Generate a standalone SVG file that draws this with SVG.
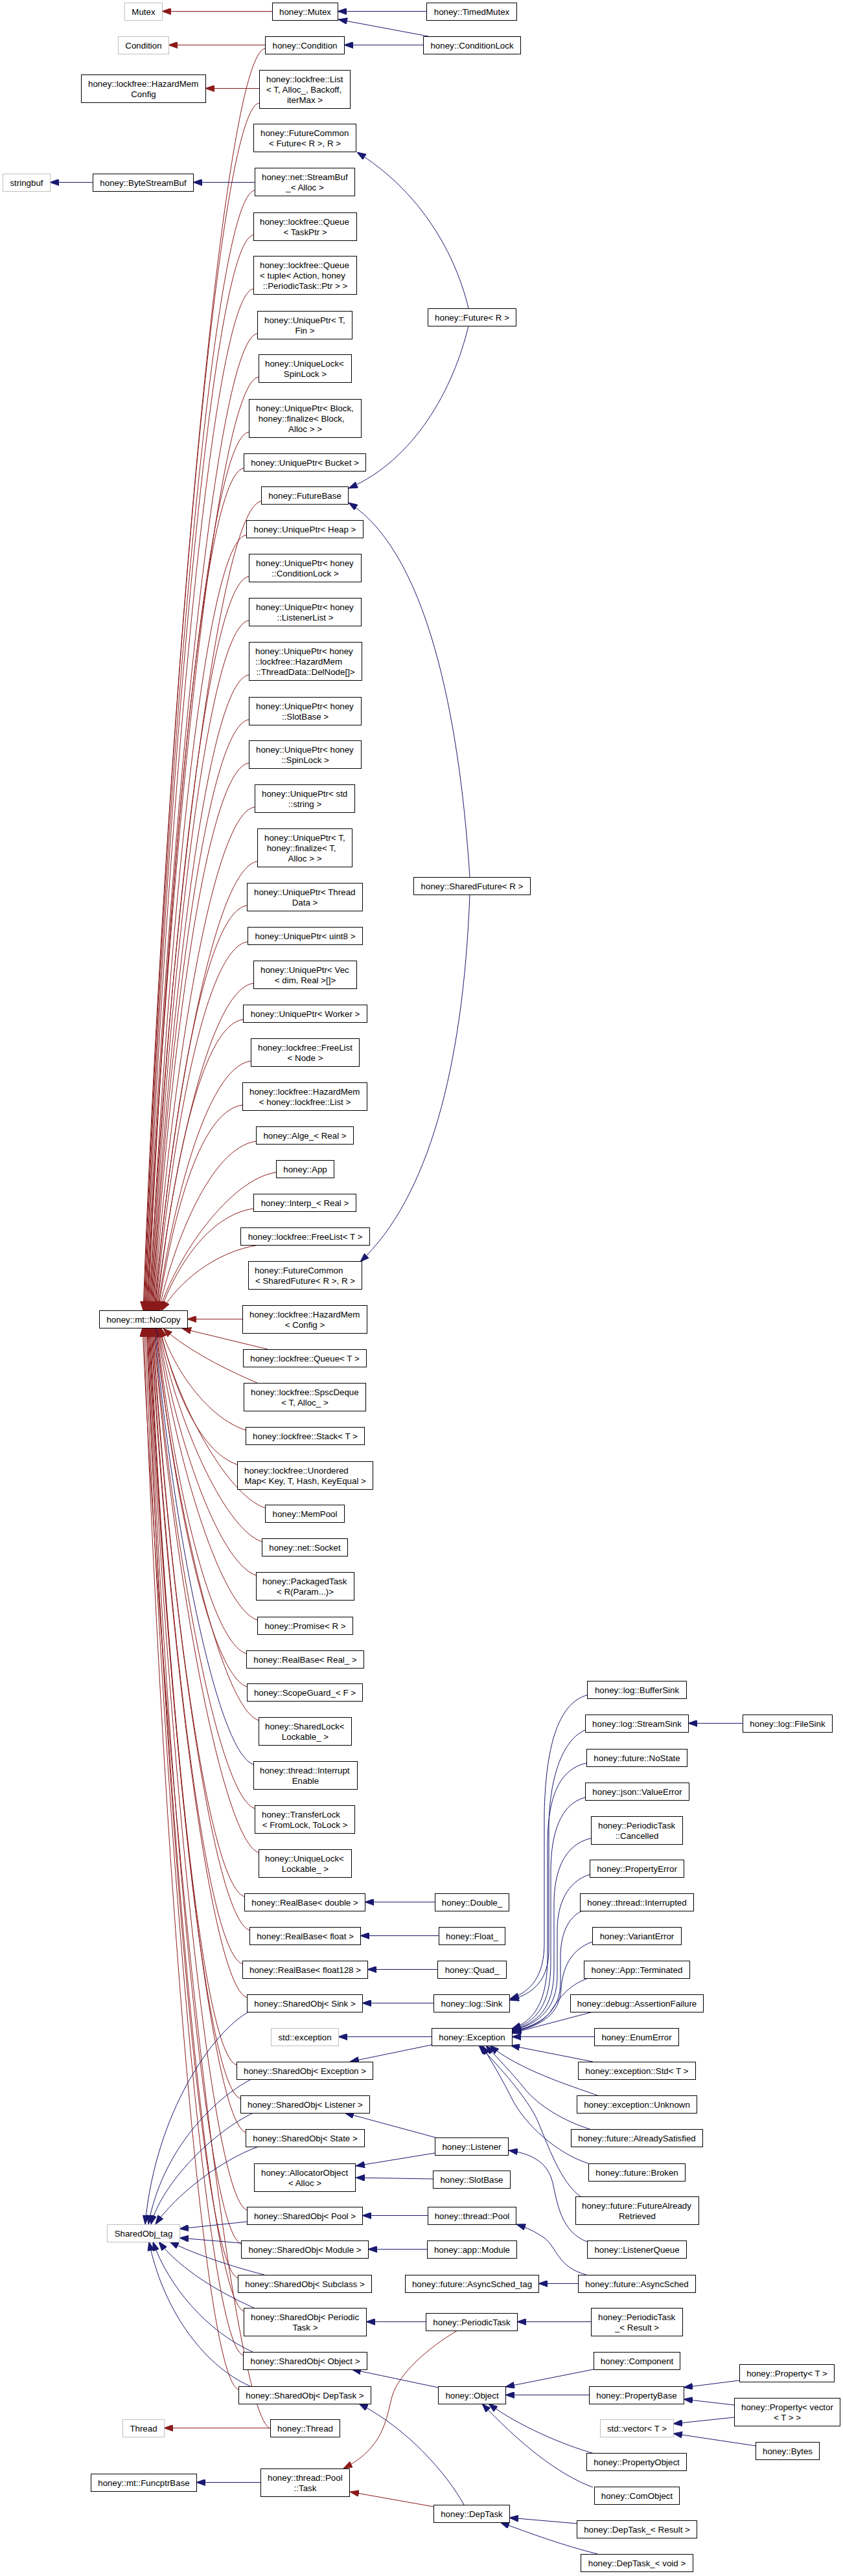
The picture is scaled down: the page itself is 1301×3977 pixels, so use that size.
<svg xmlns="http://www.w3.org/2000/svg" width="1301" height="3977" viewBox="0 0 1301 3977">
<style>
.n rect{fill:#fff;stroke:#000;stroke-width:1}
.g rect{fill:#fff;stroke:#bfbfbf;stroke-width:1}
text{font-family:"Liberation Sans",Arial,Helvetica,sans-serif;font-size:13.33px;fill:#000}
.c{text-anchor:middle}
#edges path{fill:none;stroke-width:1}
.r{stroke:#8b1a1a;marker-end:url(#ar)}
.b{stroke:#191970;marker-end:url(#ab)}
</style>
<defs>
<marker id="ar" viewBox="0 0 14 10" refX="14" refY="5" markerWidth="14" markerHeight="10" markerUnits="userSpaceOnUse" orient="auto"><path d="M0,0 L14,5 L0,10 z" fill="#8b1a1a" stroke="#8b1a1a"/></marker>
<marker id="ab" viewBox="0 0 14 10" refX="14" refY="5" markerWidth="14" markerHeight="10" markerUnits="userSpaceOnUse" orient="auto"><path d="M0,0 L14,5 L0,10 z" fill="#191970" stroke="#191970"/></marker>
</defs>
<rect width="1301" height="3977" fill="#fff"/>
<g id="edges">
<path class="r" d="M420,17.5 L250,17.5"/>
<path class="r" d="M409,69.5 L260,69.5"/>
<path class="r" d="M400,136.5 L317,136.5"/>
<path class="b" d="M658,17.5 L521,17.5"/>
<path class="b" d="M661,56 L522,30"/>
<path class="b" d="M653,69.5 L531,69.5"/>
<path class="b" d="M143,281.5 L77,281.5"/>
<path class="b" d="M393,281.5 L298,281.5"/>
<path class="b" d="M723,476 C700,380 640,290 551,235"/>
<path class="b" d="M723,503 C700,600 640,710 538,754"/>
<path class="b" d="M725,1354 C712,1150 670,860 538,776"/>
<path class="b" d="M725,1381 C715,1650 660,1850 556,1948"/>
<path class="r" d="M409,75 C339,85 249,1245 221,2023"/>
<path class="r" d="M400,159 C330,169 249,1277 222,2023"/>
<path class="r" d="M393,294 C323,304 248,1331 223,2023"/>
<path class="r" d="M391,363 C321,373 249,1359 224,2023"/>
<path class="r" d="M391,446 C321,456 250,1392 225,2023"/>
<path class="r" d="M397,515 C327,525 252,1420 226,2023"/>
<path class="r" d="M399,582 C329,592 253,1447 227,2023"/>
<path class="r" d="M384,667 C314,677 251,1481 228,2023"/>
<path class="r" d="M376,723 C306,733 251,1503 229,2023"/>
<path class="r" d="M403,774 C333,784 256,1523 230,2023"/>
<path class="r" d="M380,826 C310,836 253,1544 231,2023"/>
<path class="r" d="M384,890 C314,900 255,1570 232,2023"/>
<path class="r" d="M384,958 C314,968 256,1597 233,2023"/>
<path class="r" d="M384,1042 C314,1052 257,1631 234,2023"/>
<path class="r" d="M384,1111 C314,1121 257,1658 235,2023"/>
<path class="r" d="M384,1178 C314,1188 258,1685 236,2023"/>
<path class="r" d="M393,1246 C323,1256 260,1712 237,2023"/>
<path class="r" d="M397,1330 C327,1340 262,1746 238,2023"/>
<path class="r" d="M381,1398 C311,1408 260,1773 239,2023"/>
<path class="r" d="M382,1454 C312,1464 261,1795 240,2023"/>
<path class="r" d="M391,1518 C321,1528 264,1821 241,2023"/>
<path class="r" d="M375,1574 C305,1584 262,1843 242,2023"/>
<path class="r" d="M387,1638 C317,1648 265,1869 243,2023"/>
<path class="r" d="M374,1706 C304,1716 264,1896 244,2023"/>
<path class="r" d="M395,1762 C325,1772 268,1919 245,2023"/>
<path class="r" d="M426,1810 C356,1820 273,1938 246,2023"/>
<path class="r" d="M391,1866 C321,1876 270,1960 248,2023"/>
<path class="r" d="M400,1922 C330,1932 273,1983 250,2023"/>
<path class="r" d="M374,2036.5 L289,2036.5"/>
<path class="r" d="M413,2083 L281,2051"/>
<path class="r" d="M397,2135 C350,2115 290,2085 252,2051"/>
<path class="r" d="M379,2208 C319,2188 268,2113 248,2050"/>
<path class="r" d="M366,2261 C306,2241 265,2134 247,2050"/>
<path class="r" d="M409,2328 C349,2308 271,2161 246,2050"/>
<path class="r" d="M404,2380 C344,2360 269,2182 245,2050"/>
<path class="r" d="M395,2432 C335,2412 267,2203 244,2050"/>
<path class="r" d="M397,2501 C337,2481 266,2230 243,2050"/>
<path class="r" d="M380,2553 C320,2533 263,2251 242,2050"/>
<path class="r" d="M381,2604 C321,2584 262,2272 241,2050"/>
<path class="r" d="M399,2656 C339,2636 264,2292 240,2050"/>
<path class="b" d="M391,2724 C331,2704 262,2320 239,2050"/>
<path class="r" d="M393,2792 C333,2772 261,2347 238,2050"/>
<path class="r" d="M399,2860 C339,2840 261,2374 237,2050"/>
<path class="r" d="M377,2928 C317,2908 257,2401 236,2050"/>
<path class="r" d="M385,2980 C325,2960 258,2422 235,2050"/>
<path class="r" d="M374,3032 C314,3012 255,2443 234,2050"/>
<path class="r" d="M381,3084 C321,3064 255,2464 233,2050"/>
<path class="r" d="M365,3188 C305,3168 252,2505 232,2050"/>
<path class="r" d="M371,3240 C311,3220 252,2526 231,2050"/>
<path class="r" d="M379,3292 C319,3272 252,2547 230,2050"/>
<path class="r" d="M381,3412 C321,3392 252,2595 229,2050"/>
<path class="r" d="M372,3464 C312,3444 250,2616 228,2050"/>
<path class="r" d="M367,3517 C307,3497 248,2637 227,2050"/>
<path class="r" d="M376,3568 C316,3548 249,2657 226,2050"/>
<path class="r" d="M375,3636 C315,3616 247,2684 224,2050"/>
<path class="r" d="M368,3689 C308,3669 244,2706 222,2050"/>
<path class="r" d="M417,3749 C357,3729 250,2730 220,2050"/>
<path class="b" d="M671,2936.5 L563,2936.5"/>
<path class="b" d="M677,2988.5 L556,2988.5"/>
<path class="b" d="M675,3040.5 L567,3040.5"/>
<path class="b" d="M669,3092.5 L559,3092.5"/>
<path class="b" d="M666,3144.5 L522,3144.5"/>
<path class="b" d="M666,3157 L540,3183"/>
<path class="b" d="M1146,2660.5 L1062,2660.5"/>
<path class="b" d="M906,2617 C860,2630 842,2700 840,2800 L840,3000 C840,3050 820,3075 787,3086"/>
<path class="b" d="M903,2671 C870,2685 848,2740 847,2820 L847,3010 C847,3055 825,3078 787,3088"/>
<path class="b" d="M905,2722 C860,2732 845,2780 845,2850 L845,3020 C845,3090 825,3120 790,3132"/>
<path class="b" d="M903,2775 C865,2785 850,2830 850,2890 L850,3030 C850,3095 828,3122 790,3133"/>
<path class="b" d="M912,2838 C870,2848 855,2890 855,2940 L855,3040 C855,3100 830,3124 790,3134"/>
<path class="b" d="M910,2894 C875,2905 860,2940 860,2980 L860,3050 C860,3100 832,3125 790,3135"/>
<path class="b" d="M899,2950 C875,2960 865,2990 865,3020 L865,3060 C865,3105 835,3127 790,3136"/>
<path class="b" d="M914,2998 C880,3010 868,3040 866,3070 C864,3108 838,3128 790,3137"/>
<path class="b" d="M908,3054 C875,3065 860,3090 850,3105 C840,3120 820,3130 790,3138"/>
<path class="b" d="M915,3106 L790,3139"/>
<path class="b" d="M917,3144.5 L790,3144.5"/>
<path class="b" d="M915,3183 L788,3158"/>
<path class="b" d="M922,3235 C880,3220 800,3195 756,3158"/>
<path class="b" d="M913,3288 C870,3275 830,3250 810,3225 C790,3200 770,3180 750,3158"/>
<path class="b" d="M908,3340 C860,3325 810,3280 790,3240 C775,3210 760,3185 744,3158"/>
<path class="b" d="M897,3392 C865,3370 845,3310 830,3275 C815,3240 770,3190 739,3158"/>
<path class="b" d="M384,3106 C330,3135 240,3260 224,3434"/>
<path class="b" d="M388,3210 C330,3240 250,3320 229,3434"/>
<path class="b" d="M393,3261 C330,3290 250,3370 233,3434"/>
<path class="b" d="M399,3314 C340,3335 270,3390 240,3434"/>
<path class="b" d="M381,3430 L277,3441"/>
<path class="b" d="M372,3463 L277,3455"/>
<path class="b" d="M408,3512 C360,3500 300,3480 262,3461"/>
<path class="b" d="M392,3563 C340,3540 280,3505 245,3461"/>
<path class="b" d="M390,3631 C320,3600 260,3530 236,3461"/>
<path class="b" d="M386,3684 C310,3650 250,3560 230,3461"/>
<path class="b" d="M672,3300 L532,3262"/>
<path class="b" d="M671,3324 L549,3344"/>
<path class="b" d="M668,3364 L549,3362"/>
<path class="b" d="M660,3420.5 L559,3420.5"/>
<path class="b" d="M659,3472.5 L568,3472.5"/>
<path class="b" d="M892,3525.5 L831,3525.5"/>
<path class="b" d="M905,3512 C860,3500 860,3470 840,3455 C825,3445 815,3440 797,3434"/>
<path class="b" d="M906,3461 C865,3445 860,3400 853,3370 C845,3335 815,3324 785,3320"/>
<path class="b" d="M657,3584.5 L565,3584.5"/>
<path class="b" d="M912,3584.5 L798,3584.5"/>
<path class="r" d="M706,3598 C660,3625 615,3665 605,3700 C595,3740 590,3780 530,3811"/>
<path class="r" d="M669,3870 L540,3847"/>
<path class="b" d="M402,3832.5 L303,3832.5"/>
<path class="r" d="M417,3748.5 L253,3748.5"/>
<path class="b" d="M676,3686 L543,3658"/>
<path class="b" d="M716,3867 C690,3820 630,3750 554,3711"/>
<path class="b" d="M916,3658 L780,3685"/>
<path class="b" d="M909,3697.5 L780,3697.5"/>
<path class="b" d="M917,3788 C870,3775 800,3745 754,3711"/>
<path class="b" d="M915,3840 C860,3820 800,3770 744,3711"/>
<path class="b" d="M1141,3675 L1055,3686"/>
<path class="b" d="M1133,3713 L1055,3704"/>
<path class="b" d="M1133,3732 L1039,3742"/>
<path class="b" d="M1166,3776 L1039,3757"/>
<path class="b" d="M890,3896 L786,3887"/>
<path class="b" d="M922,3943 C870,3930 820,3912 772,3894"/>
</g>
<g id="n_mutex_ext" class="g"><rect x="192.5" y="4.5" width="58" height="27"/><text class="c" x="221.5" y="23">Mutex</text></g>
<g id="n_honey_mutex" class="n"><rect x="420.5" y="4.5" width="101" height="27"/><text class="c" x="471" y="23">honey::Mutex</text></g>
<g id="n_timedmutex" class="n"><rect x="658.5" y="4.5" width="139" height="27"/><text class="c" x="728" y="23">honey::TimedMutex</text></g>
<g id="n_condition_ext" class="g"><rect x="182.5" y="56.5" width="78" height="27"/><text class="c" x="221.5" y="75">Condition</text></g>
<g id="n_honey_condition" class="n"><rect x="409.5" y="56.5" width="122" height="27"/><text class="c" x="470.5" y="75">honey::Condition</text></g>
<g id="n_conditionlock" class="n"><rect x="653.5" y="56.5" width="150" height="27"/><text class="c" x="728.5" y="75">honey::ConditionLock</text></g>
<g id="n_hazardmem_cfgbase" class="n"><rect x="125.5" y="115.5" width="192" height="43"/><text x="136" y="134">honey::lockfree::HazardMem</text><text class="c" x="221.5" y="150">Config</text></g>
<g id="n_list" class="n"><rect x="400.5" y="108.5" width="140" height="59"/><text x="411" y="127">honey::lockfree::List</text><text x="411" y="143">&lt; T, Alloc_, Backoff,</text><text class="c" x="470.5" y="159">iterMax &gt;</text></g>
<g id="n_fc_future" class="n"><rect x="391.5" y="191.5" width="158" height="43"/><text x="402" y="210">honey::FutureCommon</text><text class="c" x="470.5" y="226">&lt; Future&lt; R &gt;, R &gt;</text></g>
<g id="n_stringbuf" class="g"><rect x="4.5" y="268.5" width="73" height="27"/><text class="c" x="41" y="287">stringbuf</text></g>
<g id="n_bytestreambuf" class="n"><rect x="143.5" y="268.5" width="155" height="27"/><text class="c" x="221" y="287">honey::ByteStreamBuf</text></g>
<g id="n_streambuf" class="n"><rect x="393.5" y="259.5" width="154" height="43"/><text x="404" y="278">honey::net::StreamBuf</text><text class="c" x="470.5" y="294">_&lt; Alloc &gt;</text></g>
<g id="n_queue_taskptr" class="n"><rect x="391.5" y="328.5" width="159" height="43"/><text x="401" y="347">honey::lockfree::Queue</text><text class="c" x="471" y="363">&lt; TaskPtr &gt;</text></g>
<g id="n_queue_tuple" class="n"><rect x="391.5" y="395.5" width="159" height="59"/><text x="401" y="414">honey::lockfree::Queue</text><text x="401" y="430">&lt; tuple&lt; Action, honey</text><text class="c" x="471" y="446">::PeriodicTask::Ptr &gt; &gt;</text></g>
<g id="n_up_tfin" class="n"><rect x="397.5" y="480.5" width="146" height="43"/><text x="408" y="499">honey::UniquePtr&lt; T,</text><text class="c" x="470.5" y="515">Fin &gt;</text></g>
<g id="n_ul_spinlock" class="n"><rect x="399.5" y="547.5" width="143" height="43"/><text x="409" y="566">honey::UniqueLock&lt;</text><text class="c" x="471" y="582">SpinLock &gt;</text></g>
<g id="n_up_block" class="n"><rect x="384.5" y="616.5" width="173" height="59"/><text x="395" y="635">honey::UniquePtr&lt; Block,</text><text x="398.7" y="651">honey::finalize&lt; Block,</text><text class="c" x="471" y="667">Alloc &gt; &gt;</text></g>
<g id="n_up_bucket" class="n"><rect x="376.5" y="700.5" width="188" height="27"/><text class="c" x="470.5" y="719">honey::UniquePtr&lt; Bucket &gt;</text></g>
<g id="n_futurebase" class="n"><rect x="403.5" y="751.5" width="134" height="27"/><text class="c" x="470.5" y="770">honey::FutureBase</text></g>
<g id="n_up_heap" class="n"><rect x="380.5" y="803.5" width="180" height="27"/><text class="c" x="470.5" y="822">honey::UniquePtr&lt; Heap &gt;</text></g>
<g id="n_up_condlock" class="n"><rect x="384.5" y="855.5" width="173" height="43"/><text x="395" y="874">honey::UniquePtr&lt; honey</text><text class="c" x="471" y="890">::ConditionLock &gt;</text></g>
<g id="n_up_listenerlist" class="n"><rect x="384.5" y="923.5" width="173" height="43"/><text x="395" y="942">honey::UniquePtr&lt; honey</text><text class="c" x="471" y="958">::ListenerList &gt;</text></g>
<g id="n_up_delnode" class="n"><rect x="384.5" y="991.5" width="174" height="59"/><text x="394" y="1010">honey::UniquePtr&lt; honey</text><text x="394" y="1026">::lockfree::HazardMem</text><text class="c" x="471.5" y="1042">::ThreadData::DelNode[]&gt;</text></g>
<g id="n_up_slotbase" class="n"><rect x="384.5" y="1076.5" width="173" height="43"/><text x="395" y="1095">honey::UniquePtr&lt; honey</text><text class="c" x="471" y="1111">::SlotBase &gt;</text></g>
<g id="n_up_spinlock" class="n"><rect x="384.5" y="1143.5" width="173" height="43"/><text x="395" y="1162">honey::UniquePtr&lt; honey</text><text class="c" x="471" y="1178">::SpinLock &gt;</text></g>
<g id="n_up_string" class="n"><rect x="393.5" y="1211.5" width="154" height="43"/><text x="404" y="1230">honey::UniquePtr&lt; std</text><text class="c" x="470.5" y="1246">::string &gt;</text></g>
<g id="n_up_tfinalize" class="n"><rect x="397.5" y="1279.5" width="146" height="59"/><text x="408" y="1298">honey::UniquePtr&lt; T,</text><text x="411.7" y="1314">honey::finalize&lt; T,</text><text class="c" x="470.5" y="1330">Alloc &gt; &gt;</text></g>
<g id="n_up_threaddata" class="n"><rect x="381.5" y="1363.5" width="178" height="43"/><text x="392" y="1382">honey::UniquePtr&lt; Thread</text><text class="c" x="470.5" y="1398">Data &gt;</text></g>
<g id="n_up_uint8" class="n"><rect x="382.5" y="1431.5" width="177" height="27"/><text class="c" x="471" y="1450">honey::UniquePtr&lt; uint8 &gt;</text></g>
<g id="n_up_vec" class="n"><rect x="391.5" y="1483.5" width="159" height="43"/><text x="402" y="1502">honey::UniquePtr&lt; Vec</text><text class="c" x="471" y="1518">&lt; dim, Real &gt;[]&gt;</text></g>
<g id="n_up_worker" class="n"><rect x="375.5" y="1551.5" width="191" height="27"/><text class="c" x="471" y="1570">honey::UniquePtr&lt; Worker &gt;</text></g>
<g id="n_freelist_node" class="n"><rect x="387.5" y="1603.5" width="167" height="43"/><text x="398" y="1622">honey::lockfree::FreeList</text><text class="c" x="471" y="1638">&lt; Node &gt;</text></g>
<g id="n_hazardmem_list" class="n"><rect x="374.5" y="1671.5" width="192" height="43"/><text x="385" y="1690">honey::lockfree::HazardMem</text><text class="c" x="470.5" y="1706">&lt; honey::lockfree::List &gt;</text></g>
<g id="n_alge" class="n"><rect x="395.5" y="1739.5" width="150" height="27"/><text class="c" x="470.5" y="1758">honey::Alge_&lt; Real &gt;</text></g>
<g id="n_app" class="n"><rect x="426.5" y="1791.5" width="89" height="27"/><text class="c" x="471" y="1810">honey::App</text></g>
<g id="n_interp" class="n"><rect x="391.5" y="1843.5" width="158" height="27"/><text class="c" x="470.5" y="1862">honey::Interp_&lt; Real &gt;</text></g>
<g id="n_freelist_t" class="n"><rect x="371.5" y="1895.5" width="199" height="27"/><text class="c" x="471" y="1914">honey::lockfree::FreeList&lt; T &gt;</text></g>
<g id="n_fc_shared" class="n"><rect x="383.5" y="1947.5" width="175" height="43"/><text x="393" y="1966">honey::FutureCommon</text><text class="c" x="471" y="1982">&lt; SharedFuture&lt; R &gt;, R &gt;</text></g>
<g id="n_nocopy" class="n"><rect x="153.5" y="2023.5" width="136" height="27"/><text class="c" x="221.5" y="2042">honey::mt::NoCopy</text></g>
<g id="n_hazardmem_config" class="n"><rect x="374.5" y="2015.5" width="192" height="43"/><text x="385" y="2034">honey::lockfree::HazardMem</text><text class="c" x="470.5" y="2050">&lt; Config &gt;</text></g>
<g id="n_queue_t" class="n"><rect x="375.5" y="2083.5" width="190" height="27"/><text class="c" x="470.5" y="2102">honey::lockfree::Queue&lt; T &gt;</text></g>
<g id="n_spscdeque" class="n"><rect x="376.5" y="2135.5" width="188" height="43"/><text x="387" y="2154">honey::lockfree::SpscDeque</text><text class="c" x="470.5" y="2170">&lt; T, Alloc_ &gt;</text></g>
<g id="n_stack" class="n"><rect x="379.5" y="2203.5" width="183" height="27"/><text class="c" x="471" y="2222">honey::lockfree::Stack&lt; T &gt;</text></g>
<g id="n_unorderedmap" class="n"><rect x="366.5" y="2256.5" width="209" height="43"/><text x="377" y="2275">honey::lockfree::Unordered</text><text class="c" x="471" y="2291">Map&lt; Key, T, Hash, KeyEqual &gt;</text></g>
<g id="n_mempool" class="n"><rect x="409.5" y="2323.5" width="122" height="27"/><text class="c" x="470.5" y="2342">honey::MemPool</text></g>
<g id="n_socket" class="n"><rect x="404.5" y="2375.5" width="132" height="27"/><text class="c" x="470.5" y="2394">honey::net::Socket</text></g>
<g id="n_packagedtask" class="n"><rect x="395.5" y="2427.5" width="151" height="43"/><text x="405" y="2446">honey::PackagedTask</text><text class="c" x="471" y="2462">&lt; R(Param...)&gt;</text></g>
<g id="n_promise" class="n"><rect x="397.5" y="2496.5" width="147" height="27"/><text class="c" x="471" y="2515">honey::Promise&lt; R &gt;</text></g>
<g id="n_realbase_real" class="n"><rect x="380.5" y="2548.5" width="181" height="27"/><text class="c" x="471" y="2567">honey::RealBase&lt; Real_ &gt;</text></g>
<g id="n_scopeguard" class="n"><rect x="381.5" y="2599.5" width="178" height="27"/><text class="c" x="470.5" y="2618">honey::ScopeGuard_&lt; F &gt;</text></g>
<g id="n_sharedlock" class="n"><rect x="399.5" y="2651.5" width="143" height="43"/><text x="409" y="2670">honey::SharedLock&lt;</text><text class="c" x="471" y="2686">Lockable_ &gt;</text></g>
<g id="n_interruptenable" class="n"><rect x="391.5" y="2719.5" width="160" height="43"/><text x="401" y="2738">honey::thread::Interrupt</text><text class="c" x="471.5" y="2754">Enable</text></g>
<g id="n_transferlock" class="n"><rect x="393.5" y="2787.5" width="154" height="43"/><text x="404" y="2806">honey::TransferLock</text><text class="c" x="470.5" y="2822">&lt; FromLock, ToLock &gt;</text></g>
<g id="n_ul_lockable" class="n"><rect x="399.5" y="2855.5" width="143" height="43"/><text x="409" y="2874">honey::UniqueLock&lt;</text><text class="c" x="471" y="2890">Lockable_ &gt;</text></g>
<g id="n_rb_double" class="n"><rect x="377.5" y="2923.5" width="186" height="27"/><text class="c" x="470.5" y="2942">honey::RealBase&lt; double &gt;</text></g>
<g id="n_rb_float" class="n"><rect x="385.5" y="2975.5" width="171" height="27"/><text class="c" x="471" y="2994">honey::RealBase&lt; float &gt;</text></g>
<g id="n_rb_float128" class="n"><rect x="374.5" y="3027.5" width="193" height="27"/><text class="c" x="471" y="3046">honey::RealBase&lt; float128 &gt;</text></g>
<g id="n_so_sink" class="n"><rect x="381.5" y="3079.5" width="178" height="27"/><text class="c" x="470.5" y="3098">honey::SharedObj&lt; Sink &gt;</text></g>
<g id="n_std_exception" class="g"><rect x="418.5" y="3131.5" width="104" height="27"/><text class="c" x="470.5" y="3150">std::exception</text></g>
<g id="n_so_exception" class="n"><rect x="365.5" y="3183.5" width="210" height="27"/><text class="c" x="470.5" y="3202">honey::SharedObj&lt; Exception &gt;</text></g>
<g id="n_so_listener" class="n"><rect x="371.5" y="3235.5" width="199" height="27"/><text class="c" x="471" y="3254">honey::SharedObj&lt; Listener &gt;</text></g>
<g id="n_so_state" class="n"><rect x="379.5" y="3287.5" width="183" height="27"/><text class="c" x="471" y="3306">honey::SharedObj&lt; State &gt;</text></g>
<g id="n_allocatorobject" class="n"><rect x="392.5" y="3340.5" width="156" height="43"/><text x="403" y="3359">honey::AllocatorObject</text><text class="c" x="470.5" y="3375">&lt; Alloc &gt;</text></g>
<g id="n_so_pool" class="n"><rect x="381.5" y="3407.5" width="178" height="27"/><text class="c" x="470.5" y="3426">honey::SharedObj&lt; Pool &gt;</text></g>
<g id="n_sharedobj_tag" class="g"><rect x="165.5" y="3434.5" width="112" height="27"/><text class="c" x="221.5" y="3453">SharedObj_tag</text></g>
<g id="n_so_module" class="n"><rect x="372.5" y="3459.5" width="196" height="27"/><text class="c" x="470.5" y="3478">honey::SharedObj&lt; Module &gt;</text></g>
<g id="n_so_subclass" class="n"><rect x="367.5" y="3512.5" width="206" height="27"/><text class="c" x="470.5" y="3531">honey::SharedObj&lt; Subclass &gt;</text></g>
<g id="n_so_periodictask" class="n"><rect x="376.5" y="3563.5" width="189" height="43"/><text x="387" y="3582">honey::SharedObj&lt; Periodic</text><text class="c" x="471" y="3598">Task &gt;</text></g>
<g id="n_so_object" class="n"><rect x="375.5" y="3631.5" width="191" height="27"/><text class="c" x="471" y="3650">honey::SharedObj&lt; Object &gt;</text></g>
<g id="n_so_deptask" class="n"><rect x="368.5" y="3684.5" width="204" height="27"/><text class="c" x="470.5" y="3703">honey::SharedObj&lt; DepTask &gt;</text></g>
<g id="n_thread_ext" class="g"><rect x="189.5" y="3735.5" width="64" height="27"/><text class="c" x="221.5" y="3754">Thread</text></g>
<g id="n_honey_thread" class="n"><rect x="417.5" y="3735.5" width="107" height="27"/><text class="c" x="471" y="3754">honey::Thread</text></g>
<g id="n_funcptrbase" class="n"><rect x="140.5" y="3819.5" width="163" height="27"/><text class="c" x="222" y="3838">honey::mt::FuncptrBase</text></g>
<g id="n_pool_task" class="n"><rect x="402.5" y="3811.5" width="137" height="43"/><text x="413" y="3830">honey::thread::Pool</text><text class="c" x="471" y="3846">::Task</text></g>
<g id="n_future" class="n"><rect x="660.5" y="476.5" width="136" height="27"/><text class="c" x="728.5" y="495">honey::Future&lt; R &gt;</text></g>
<g id="n_sharedfuture" class="n"><rect x="638.5" y="1354.5" width="180" height="27"/><text class="c" x="728.5" y="1373">honey::SharedFuture&lt; R &gt;</text></g>
<g id="n_double" class="n"><rect x="671.5" y="2923.5" width="114" height="27"/><text class="c" x="728.5" y="2942">honey::Double_</text></g>
<g id="n_float" class="n"><rect x="677.5" y="2975.5" width="102" height="27"/><text class="c" x="728.5" y="2994">honey::Float_</text></g>
<g id="n_quad" class="n"><rect x="675.5" y="3027.5" width="106" height="27"/><text class="c" x="728.5" y="3046">honey::Quad_</text></g>
<g id="n_logsink" class="n"><rect x="669.5" y="3079.5" width="117" height="27"/><text class="c" x="728" y="3098">honey::log::Sink</text></g>
<g id="n_exception" class="n"><rect x="666.5" y="3131.5" width="124" height="27"/><text class="c" x="728.5" y="3150">honey::Exception</text></g>
<g id="n_listener" class="n"><rect x="671.5" y="3300.5" width="113" height="27"/><text class="c" x="728" y="3319">honey::Listener</text></g>
<g id="n_slotbase" class="n"><rect x="668.5" y="3351.5" width="119" height="27"/><text class="c" x="728" y="3370">honey::SlotBase</text></g>
<g id="n_threadpool" class="n"><rect x="660.5" y="3407.5" width="136" height="27"/><text class="c" x="728.5" y="3426">honey::thread::Pool</text></g>
<g id="n_appmodule" class="n"><rect x="659.5" y="3459.5" width="138" height="27"/><text class="c" x="728.5" y="3478">honey::app::Module</text></g>
<g id="n_asyncsched_tag" class="n"><rect x="625.5" y="3512.5" width="206" height="27"/><text class="c" x="728.5" y="3531">honey::future::AsyncSched_tag</text></g>
<g id="n_periodictask" class="n"><rect x="657.5" y="3571.5" width="141" height="27"/><text class="c" x="728" y="3590">honey::PeriodicTask</text></g>
<g id="n_object" class="n"><rect x="676.5" y="3684.5" width="104" height="27"/><text class="c" x="728.5" y="3703">honey::Object</text></g>
<g id="n_deptask" class="n"><rect x="669.5" y="3867.5" width="117" height="27"/><text class="c" x="728" y="3886">honey::DepTask</text></g>
<g id="n_buffersink" class="n"><rect x="906.5" y="2595.5" width="153" height="27"/><text class="c" x="983" y="2614">honey::log::BufferSink</text></g>
<g id="n_streamsink" class="n"><rect x="903.5" y="2647.5" width="159" height="27"/><text class="c" x="983" y="2666">honey::log::StreamSink</text></g>
<g id="n_filesink" class="n"><rect x="1146.5" y="2647.5" width="138" height="27"/><text class="c" x="1215.5" y="2666">honey::log::FileSink</text></g>
<g id="n_nostate" class="n"><rect x="905.5" y="2700.5" width="155" height="27"/><text class="c" x="983" y="2719">honey::future::NoState</text></g>
<g id="n_valueerror" class="n"><rect x="903.5" y="2752.5" width="160" height="27"/><text class="c" x="983.5" y="2771">honey::json::ValueError</text></g>
<g id="n_cancelled" class="n"><rect x="912.5" y="2804.5" width="141" height="43"/><text x="923" y="2823">honey::PeriodicTask</text><text class="c" x="983" y="2839">::Cancelled</text></g>
<g id="n_propertyerror" class="n"><rect x="910.5" y="2871.5" width="145" height="27"/><text class="c" x="983" y="2890">honey::PropertyError</text></g>
<g id="n_interrupted" class="n"><rect x="895.5" y="2923.5" width="175" height="27"/><text class="c" x="983" y="2942">honey::thread::Interrupted</text></g>
<g id="n_varianterror" class="n"><rect x="914.5" y="2975.5" width="137" height="27"/><text class="c" x="983" y="2994">honey::VariantError</text></g>
<g id="n_appterminated" class="n"><rect x="901.5" y="3027.5" width="163" height="27"/><text class="c" x="983" y="3046">honey::App::Terminated</text></g>
<g id="n_assertionfailure" class="n"><rect x="880.5" y="3079.5" width="205" height="27"/><text class="c" x="983" y="3098">honey::debug::AssertionFailure</text></g>
<g id="n_enumerror" class="n"><rect x="917.5" y="3131.5" width="130" height="27"/><text class="c" x="982.5" y="3150">honey::EnumError</text></g>
<g id="n_exc_std" class="n"><rect x="892.5" y="3183.5" width="181" height="27"/><text class="c" x="983" y="3202">honey::exception::Std&lt; T &gt;</text></g>
<g id="n_exc_unknown" class="n"><rect x="890.5" y="3235.5" width="185" height="27"/><text class="c" x="983" y="3254">honey::exception::Unknown</text></g>
<g id="n_alreadysatisfied" class="n"><rect x="881.5" y="3287.5" width="203" height="27"/><text class="c" x="983" y="3306">honey::future::AlreadySatisfied</text></g>
<g id="n_broken" class="n"><rect x="908.5" y="3340.5" width="149" height="27"/><text class="c" x="983" y="3359">honey::future::Broken</text></g>
<g id="n_futurealreadyretrieved" class="n"><rect x="888.5" y="3391.5" width="190" height="43"/><text x="898" y="3410">honey::future::FutureAlready</text><text class="c" x="983.5" y="3426">Retrieved</text></g>
<g id="n_listenerqueue" class="n"><rect x="906.5" y="3459.5" width="153" height="27"/><text class="c" x="983" y="3478">honey::ListenerQueue</text></g>
<g id="n_asyncsched" class="n"><rect x="892.5" y="3512.5" width="181" height="27"/><text class="c" x="983" y="3531">honey::future::AsyncSched</text></g>
<g id="n_periodictask_result" class="n"><rect x="912.5" y="3563.5" width="141" height="43"/><text x="923" y="3582">honey::PeriodicTask</text><text class="c" x="983" y="3598">_&lt; Result &gt;</text></g>
<g id="n_component" class="n"><rect x="916.5" y="3631.5" width="133" height="27"/><text class="c" x="983" y="3650">honey::Component</text></g>
<g id="n_propertybase" class="n"><rect x="909.5" y="3684.5" width="146" height="27"/><text class="c" x="982.5" y="3703">honey::PropertyBase</text></g>
<g id="n_stdvector" class="g"><rect x="926.5" y="3735.5" width="113" height="27"/><text class="c" x="983" y="3754">std::vector&lt; T &gt;</text></g>
<g id="n_propertyobject" class="n"><rect x="905.5" y="3787.5" width="154" height="27"/><text class="c" x="982.5" y="3806">honey::PropertyObject</text></g>
<g id="n_comobject" class="n"><rect x="917.5" y="3839.5" width="131" height="27"/><text class="c" x="983" y="3858">honey::ComObject</text></g>
<g id="n_deptask_result" class="n"><rect x="890.5" y="3891.5" width="185" height="27"/><text class="c" x="983" y="3910">honey::DepTask_&lt; Result &gt;</text></g>
<g id="n_deptask_void" class="n"><rect x="896.5" y="3943.5" width="173" height="27"/><text class="c" x="983" y="3962">honey::DepTask_&lt; void &gt;</text></g>
<g id="n_property_t" class="n"><rect x="1141.5" y="3650.5" width="146" height="27"/><text class="c" x="1214.5" y="3669">honey::Property&lt; T &gt;</text></g>
<g id="n_property_vector" class="n"><rect x="1133.5" y="3702.5" width="163" height="43"/><text x="1144" y="3721">honey::Property&lt; vector</text><text class="c" x="1215" y="3737">&lt; T &gt; &gt;</text></g>
<g id="n_bytes" class="n"><rect x="1166.5" y="3770.5" width="98" height="27"/><text class="c" x="1215.5" y="3789">honey::Bytes</text></g>
</svg>
